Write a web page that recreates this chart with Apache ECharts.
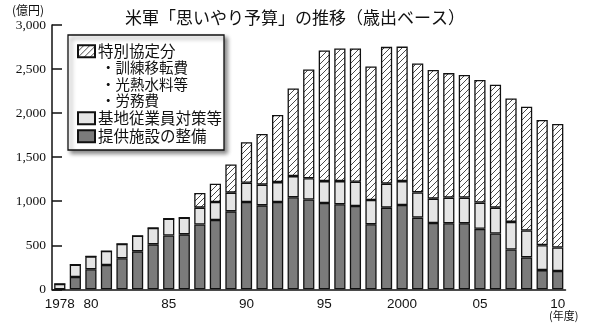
<!DOCTYPE html>
<html>
<head>
<meta charset="utf-8">
<script src="https://cdn.jsdelivr.net/npm/echarts@6/dist/echarts.min.js"></script>
<style>
  html, body { margin: 0; padding: 0; background: #fff; }
  #chart { width: 590px; height: 329px; }
</style>
</head>
<body>
<div id="chart"></div>
<script>
// Fiscal years 1978-2010
const years = [1978, 1979, 1980, 1981, 1982, 1983, 1984, 1985, 1986, 1987, 1988,
  1989, 1990, 1991, 1992, 1993, 1994, 1995, 1996, 1997, 1998, 1999, 2000,
  2001, 2002, 2003, 2004, 2005, 2006, 2007, 2008, 2009, 2010];

// 提供施設の整備 (億円)
const facilities = [0, 140, 227, 276, 352, 431, 510, 611, 624, 735, 787,
  885, 991, 953, 991, 1044, 1020, 980, 965, 946, 739, 927, 957,
  814, 752, 750, 750, 686, 633, 452, 362, 218, 207];

// 基地従業員対策等 (億円)
const employees = [62, 140, 147, 158, 164, 176, 187, 190, 188, 192, 204,
  212, 219, 235, 226, 241, 240, 248, 263, 275, 275, 272, 271,
  286, 277, 291, 291, 298, 294, 313, 305, 283, 268];

// 特別協定分 (億円)
const special = [0, 0, 0, 0, 0, 0, 0, 0, 0, 166, 208,
  320, 460, 576, 762, 995, 1235, 1482, 1505, 1513, 1515, 1553, 1527,
  1463, 1461, 1413, 1391, 1391, 1395, 1402, 1406, 1422, 1402];

// Year labels shown under the axis
const tickYears = [1978, 1980, 1985, 1990, 1995, 2000, 2005, 2010];
const tickTexts = ['1978', '80', '85', '90', '95', '2000', '05', '10'];

const subItems = ['・訓練移転費', '・光熱水料等', '・労務費'];

// Diagonal hatch fill
function hatch() {
  const s = 6;
  const c = document.createElement('canvas');
  c.width = s; c.height = s;
  const g = c.getContext('2d');
  g.fillStyle = '#fff';
  g.fillRect(0, 0, s, s);
  g.strokeStyle = '#4a4a4a';
  g.lineWidth = 1;
  g.beginPath();
  g.moveTo(-1, s + 1); g.lineTo(s + 1, -1);
  g.moveTo(-1, 1); g.lineTo(1, -1);
  g.moveTo(s - 1, s + 1); g.lineTo(s + 1, s - 1);
  g.stroke();
  return { image: c, repeat: 'repeat' };
}

const jp = '"Noto Sans CJK JP", "Noto Sans", sans-serif';
const border = { borderColor: '#111', borderWidth: 1.3 };

const chart = echarts.init(document.getElementById('chart'), null, { renderer: 'canvas' });

const legendBase = {
  orient: 'vertical',
  left: 77,
  padding: 0,
  itemWidth: 17,
  itemHeight: 12,
  itemGap: 4,
  selectedMode: false,
  icon: 'rect',
  textStyle: { fontFamily: jp, fontSize: 15.5, color: '#111', padding: [0, 0, 0, -2] }
};

chart.setOption({
  animation: false,
  backgroundColor: '#fff',
  title: {
    text: '米軍「思いやり予算」の推移（歳出ベース）',
    left: 'center',
    top: 4,
    textStyle: { fontFamily: jp, fontSize: 17, fontWeight: 'normal', color: '#111' }
  },
  legend: [
    Object.assign({}, legendBase, { top: 43.5, data: ['特別協定分'] }),
    Object.assign({}, legendBase, { top: 110.5, data: ['基地従業員対策等'] }),
    Object.assign({}, legendBase, { top: 128.5, data: ['提供施設の整備'] })
  ],
  grid: { left: 52, top: 25, width: 513.5, height: 264.3, containLabel: false },
  xAxis: {
    type: 'category',
    data: years,
    boundaryGap: true,
    axisLine: { lineStyle: { color: '#111', width: 1.5 } },
    axisTick: { show: false },
    axisLabel: {
      interval: (i, v) => tickYears.indexOf(Number(v)) >= 0,
      formatter: v => tickTexts[tickYears.indexOf(Number(v))],
      fontFamily: '"Liberation Sans", Arial, sans-serif',
      fontSize: 13.5,
      color: '#111',
      margin: 8
    }
  },
  yAxis: {
    type: 'value',
    min: 0,
    max: 3000,
    interval: 500,
    splitLine: { show: false },
    axisLine: { show: true, lineStyle: { color: '#111', width: 1.5 } },
    axisTick: { show: true, inside: true, length: 10, lineStyle: { color: '#111', width: 1.5 } },
    axisLabel: {
      formatter: v => v.toLocaleString('en-US'),
      fontFamily: '"Liberation Serif", "DejaVu Serif", serif',
      fontSize: 13.5,
      color: '#111',
      margin: 6
    }
  },
  series: [
    {
      name: '提供施設の整備',
      type: 'bar',
      stack: 'total',
      data: facilities,
      barCategoryGap: '28%',
      itemStyle: Object.assign({ color: '#7b7b7b' }, border)
    },
    {
      name: '基地従業員対策等',
      type: 'bar',
      stack: 'total',
      data: employees,
      itemStyle: Object.assign({ color: '#e5e5e5' }, border)
    },
    {
      name: '特別協定分',
      type: 'bar',
      stack: 'total',
      data: special,
      itemStyle: Object.assign({ color: hatch() }, border)
    }
  ],
  graphic: [
    {
      type: 'rect',
      z: 0,
      shape: { x: 68, y: 35, width: 156, height: 115 },
      style: {
        fill: '#fff', stroke: '#111', lineWidth: 1.3,
        shadowBlur: 4, shadowOffsetX: 3, shadowOffsetY: 3, shadowColor: 'rgba(0,0,0,0.45)'
      }
    },
    {
      type: 'text', left: 12, top: 4,
      style: { text: '(億円)', font: '12px ' + jp, fill: '#111' }
    },
    {
      type: 'text', left: 549, top: 310,
      style: { text: '(年度)', font: '11px ' + jp, fill: '#111' }
    }
  ].concat(subItems.map((t, i) => ({
    type: 'text',
    left: 101,
    top: 60.5 + i * 16.5,
    z: 10,
    style: { text: t, font: '14.5px ' + jp, fill: '#111' }
  })))
});
</script>
</body>
</html>
